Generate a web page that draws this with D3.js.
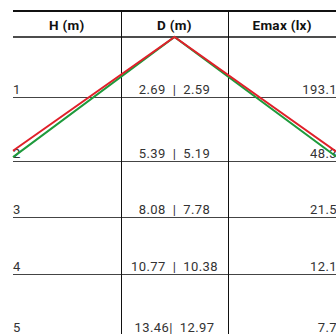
<!DOCTYPE html>
<html><head><meta charset="utf-8">
<script src="https://cdn.jsdelivr.net/npm/d3@7/dist/d3.min.js"></script>
<style>
html,body{margin:0;padding:0;background:#fff;overflow:hidden}
svg{display:block}
</style></head>
<body>
<svg id="c" width="336" height="334"></svg>
<script>
// ---- data ----
const columns = ["H (m)", "D (m)", "Emax (lx)"];
const heights = ["1", "2", "3", "4", "5"];
const dRed = ["2.69", "5.39", "8.08", "10.77", "13.46"];
const dGreen = ["2.59", "5.19", "7.78", "10.38", "12.97"];
const dSep = ["\u2002|\u2002", "\u2002|\u2002", "\u2002|\u2002", "\u2002|\u2002", "|\u2002"];
const emax = ["193.1", "48.3", "21.5", "12.1", "7.7"];
// cone edges: x in normalised half-width (-1..1), h in row units
const coneRed = [{x: -1, h: 1.84}, {x: 0, h: 0}, {x: 1, h: 1.85}];
const coneGreen = [{x: -1, h: 1.94}, {x: 0, h: 0}, {x: 1, h: 1.93}];

// ---- layout ----
const svg = d3.select("#c");
const left = 13, right = 336;
const xCol = d3.scaleBand().domain(columns).range([left, right]);
const yRow = d3.scaleLinear().domain([0, 1, 2, 3, 4, 5]).range([37, 97, 161, 217, 274, 335]);
const xCone = d3.scaleLinear().domain([-1, 1]).range([left, right]);
const font = "Roboto, 'DejaVu Sans', sans-serif";

// top thick line
svg.append("line").attr("x1", left).attr("x2", right).attr("y1", 11).attr("y2", 11)
  .attr("stroke", "#111").attr("stroke-width", 2);
// header underline
svg.append("line").attr("x1", left).attr("x2", right).attr("y1", yRow(0)).attr("y2", yRow(0))
  .attr("stroke", "#111").attr("stroke-width", 1.3);
// row lines
svg.selectAll("line.row").data(heights.slice(0, 4)).join("line").attr("class", "row")
  .attr("x1", left).attr("x2", right)
  .attr("y1", (d, i) => Math.round(yRow(i + 1)) + 0.5).attr("y2", (d, i) => Math.round(yRow(i + 1)) + 0.5)
  .attr("stroke", "#444").attr("stroke-width", 1);
// vertical lines
svg.selectAll("line.col").data(columns.slice(1)).join("line").attr("class", "col")
  .attr("x1", d => Math.round(xCol(d)) + 0.5).attr("x2", d => Math.round(xCol(d)) + 0.5)
  .attr("y1", 11).attr("y2", 334).attr("stroke", "#111").attr("stroke-width", 1);

// header text
svg.selectAll("text.hd").data(columns).join("text").attr("class", "hd")
  .attr("x", d => xCol(d) + xCol.bandwidth() / 2).attr("y", 30)
  .attr("text-anchor", "middle").attr("font-family", font).attr("font-weight", "bold")
  .attr("font-size", 13.5).attr("letter-spacing", 0.3).attr("fill", "#111").text(d => d);

// body text
const base = i => yRow(i + 1) - 3.5;
svg.selectAll("text.h").data(heights).join("text").attr("class", "h")
  .attr("x", left).attr("y", (d, i) => base(i))
  .attr("font-family", font).attr("font-size", 13).attr("fill", "#333").text(d => d);
svg.selectAll("text.d").data(dRed).join("text").attr("class", "d")
  .attr("x", xCol(columns[1]) + xCol.bandwidth() / 2).attr("y", (d, i) => base(i))
  .attr("text-anchor", "middle").attr("font-family", font).attr("font-size", 13)
  .attr("letter-spacing", 0.4).attr("fill", "#333")
  .text((d, i) => d + dSep[i] + dGreen[i]);
svg.selectAll("text.e").data(emax).join("text").attr("class", "e")
  .attr("x", right + 1).attr("y", (d, i) => base(i))
  .attr("text-anchor", "end").attr("font-family", font).attr("font-size", 13)
  .attr("letter-spacing", 0.4).attr("fill", "#333").text(d => d);

// cone lines
const line = d3.line().x(d => xCone(d.x)).y(d => yRow(d.h));
svg.append("path").datum(coneGreen).attr("d", line).attr("fill", "none")
  .attr("stroke", "#1e9a3c").attr("stroke-width", 2);
svg.append("path").datum(coneRed).attr("d", line).attr("fill", "none")
  .attr("stroke", "#e0202a").attr("stroke-width", 2);
</script>
</body></html>
